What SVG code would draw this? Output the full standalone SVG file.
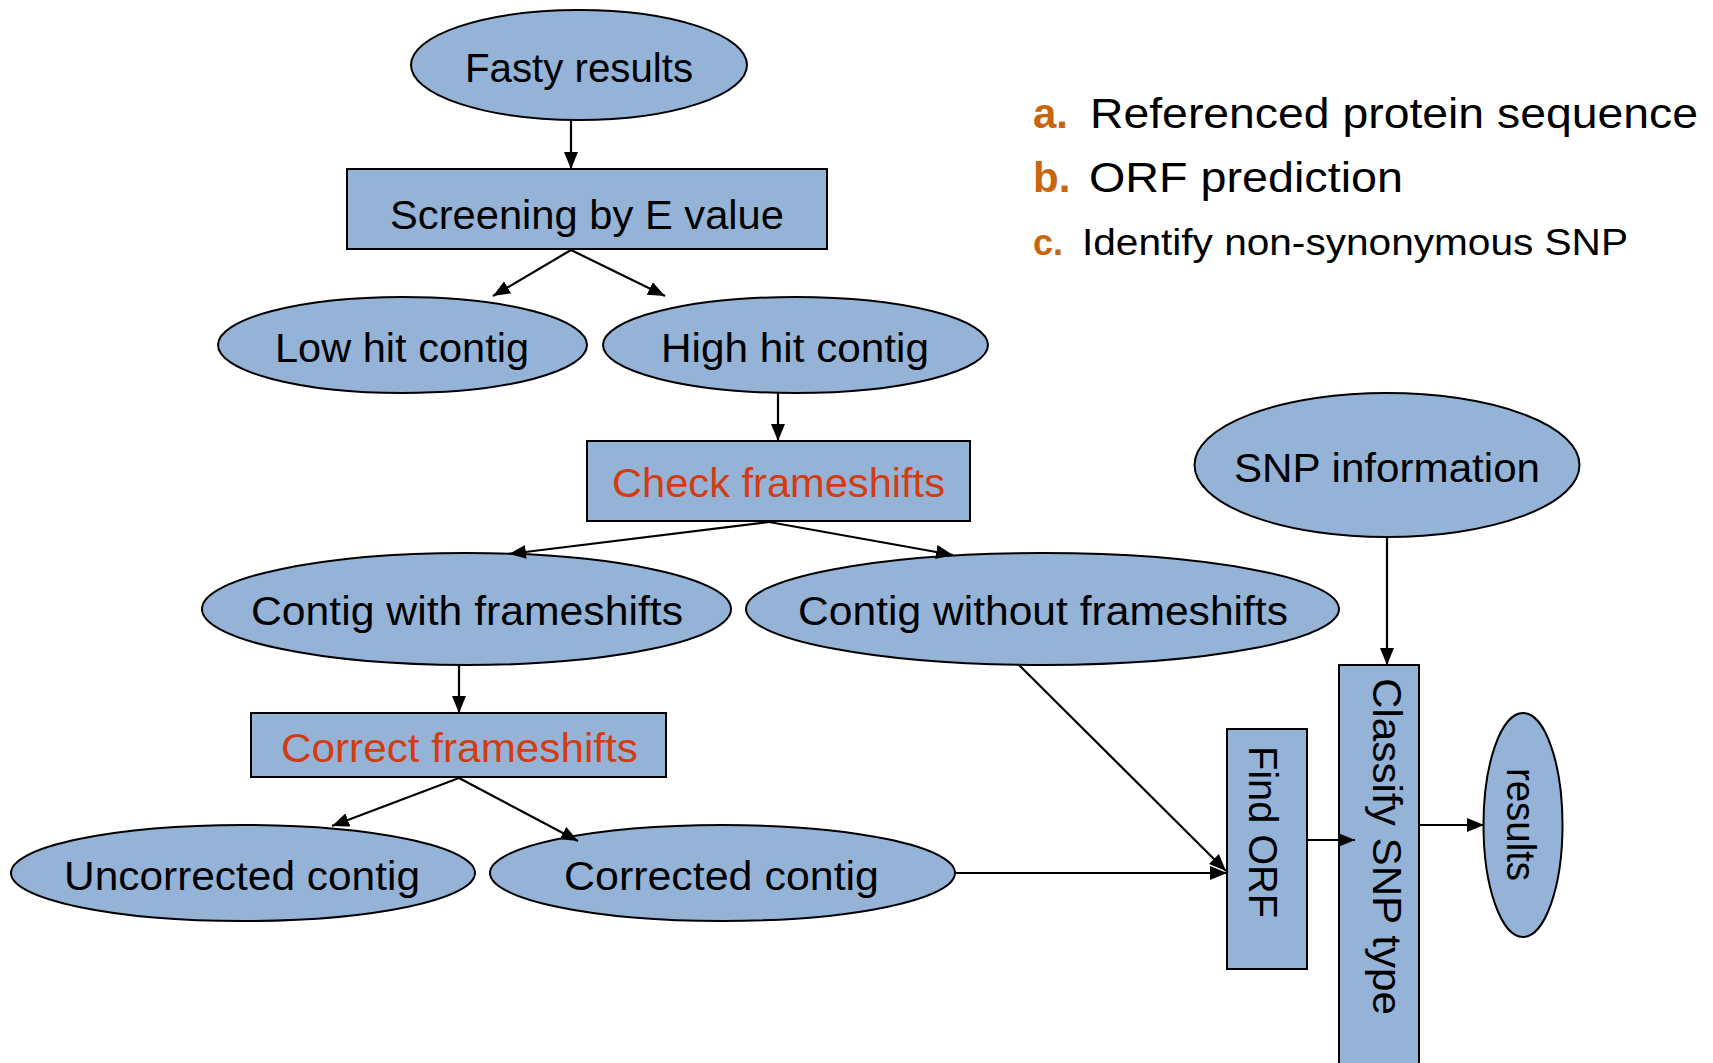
<svg xmlns="http://www.w3.org/2000/svg" width="1713" height="1063" viewBox="0 0 1713 1063">
<style>
.n{fill:#95b3d7;stroke:#000;stroke-width:2}
.t{font-family:"Liberation Sans",Arial,sans-serif;font-size:40px;fill:#000}
.r{fill:#d23c10}
.c line{stroke:#000;stroke-width:2.2;marker-end:url(#ah)}
.lg{font-family:"Liberation Sans",Arial,sans-serif;fill:#000}
.or{fill:#c8650f;font-weight:bold}
</style>
<defs>
<marker id="ah" markerUnits="userSpaceOnUse" markerWidth="18" markerHeight="14" viewBox="0 0 18 14" refX="17" refY="7" orient="auto">
<path d="M0,0 L17,7 L0,14 Z" fill="#000"/>
</marker>
</defs>
<rect width="1713" height="1063" fill="#fff"/>
<g id="fasty"><ellipse class="n" cx="579" cy="65" rx="168" ry="55"/><text class="t" x="465" y="82" textLength="228" lengthAdjust="spacingAndGlyphs">Fasty results</text></g>
<g id="screening"><rect class="n" x="347" y="169" width="480" height="80"/><text class="t" x="390" y="229" textLength="394" lengthAdjust="spacingAndGlyphs">Screening by E value</text></g>
<g id="low"><ellipse class="n" cx="402.5" cy="345" rx="184.5" ry="48"/><text class="t" x="275" y="362" textLength="254" lengthAdjust="spacingAndGlyphs">Low hit contig</text></g>
<g id="high"><ellipse class="n" cx="795.5" cy="345" rx="192.5" ry="48"/><text class="t" x="661" y="362" textLength="268" lengthAdjust="spacingAndGlyphs">High hit contig</text></g>
<g id="check"><rect class="n" x="587" y="441" width="383" height="80"/><text class="t r" x="612" y="497" textLength="333" lengthAdjust="spacingAndGlyphs">Check frameshifts</text></g>
<g id="with"><ellipse class="n" cx="466.5" cy="609" rx="264.5" ry="56"/><text class="t" x="251" y="625" textLength="432" lengthAdjust="spacingAndGlyphs">Contig with frameshifts</text></g>
<g id="without"><ellipse class="n" cx="1042.5" cy="609" rx="296.5" ry="56"/><text class="t" x="798" y="625" textLength="490" lengthAdjust="spacingAndGlyphs">Contig without frameshifts</text></g>
<g id="correct"><rect class="n" x="251" y="713" width="415" height="64"/><text class="t r" x="281" y="762" textLength="357" lengthAdjust="spacingAndGlyphs">Correct frameshifts</text></g>
<g id="uncorrected"><ellipse class="n" cx="243" cy="873" rx="232" ry="48"/><text class="t" x="64" y="890" textLength="356" lengthAdjust="spacingAndGlyphs">Uncorrected contig</text></g>
<g id="corrected"><ellipse class="n" cx="722.5" cy="873" rx="232.5" ry="48"/><text class="t" x="564" y="890" textLength="315" lengthAdjust="spacingAndGlyphs">Corrected contig</text></g>
<g id="snpinfo"><ellipse class="n" cx="1387" cy="465" rx="192.5" ry="72"/><text class="t" x="1234" y="482" textLength="306" lengthAdjust="spacingAndGlyphs">SNP information</text></g>
<g id="findorf"><rect class="n" x="1227" y="729" width="80" height="240"/><text class="t" transform="translate(1249,746) rotate(90)" x="0" y="0" textLength="172" lengthAdjust="spacingAndGlyphs">Find ORF</text></g>
<g id="classify"><rect class="n" x="1339" y="665" width="80" height="420"/><text class="t" transform="translate(1373,678) rotate(90)" x="0" y="0" textLength="337" lengthAdjust="spacingAndGlyphs">Classify SNP type</text></g>
<g id="results"><ellipse class="n" cx="1523" cy="825" rx="39.5" ry="112"/><text class="t" transform="translate(1507,768) rotate(90)" x="0" y="0" textLength="113" lengthAdjust="spacingAndGlyphs">results</text></g>
<g id="legend" class="lg">
<text x="1033" y="128" font-size="42"><tspan class="or">a.</tspan></text>
<text x="1090" y="128" font-size="42" textLength="608" lengthAdjust="spacingAndGlyphs">Referenced protein sequence</text>
<text x="1033" y="192" font-size="42"><tspan class="or">b.</tspan></text>
<text x="1089" y="192" font-size="42" textLength="314" lengthAdjust="spacingAndGlyphs">ORF prediction</text>
<text x="1033" y="255" font-size="36"><tspan class="or">c.</tspan></text>
<text x="1082" y="255" font-size="36" textLength="546" lengthAdjust="spacingAndGlyphs">Identify non-synonymous SNP</text>
</g>
<g id="connectors" class="c">
<line x1="571" y1="120" x2="571" y2="169"/>
<line x1="571" y1="250" x2="493" y2="296"/>
<line x1="571" y1="250" x2="665" y2="296"/>
<line x1="778" y1="393" x2="778" y2="441"/>
<line x1="769" y1="522" x2="509" y2="554"/>
<line x1="769" y1="522" x2="953" y2="555"/>
<line x1="459" y1="665" x2="459" y2="713"/>
<line x1="459" y1="778" x2="332" y2="826"/>
<line x1="459" y1="778" x2="578" y2="841"/>
<line x1="956" y1="873" x2="1227" y2="873"/>
<line x1="1019" y1="665" x2="1226" y2="871"/>
<line x1="1387" y1="537" x2="1387" y2="665"/>
<line x1="1307" y1="840" x2="1355" y2="840"/>
<line x1="1420" y1="825" x2="1484" y2="825"/>
</g>
</svg>
